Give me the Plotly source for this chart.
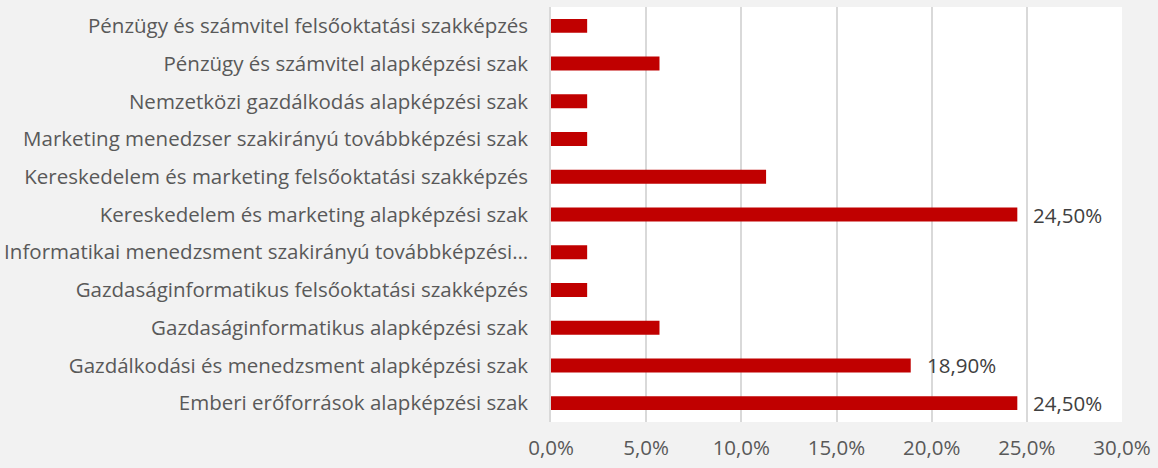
import plotly.graph_objects as go

categories = [
    "Emberi erőforrások alapképzési szak",
    "Gazdálkodási és menedzsment alapképzési szak",
    "Gazdaságinformatikus alapképzési szak",
    "Gazdaságinformatikus felsőoktatási szakképzés",
    "Informatikai menedzsment szakirányú továbbképzési…",
    "Kereskedelem és marketing alapképzési szak",
    "Kereskedelem és marketing felsőoktatási szakképzés",
    "Marketing menedzser szakirányú továbbképzési szak",
    "Nemzetközi gazdálkodás alapképzési szak",
    "Pénzügy és számvitel alapképzési szak",
    "Pénzügy és számvitel felsőoktatási szakképzés",
]
values = [0.245, 0.189, 0.057, 0.019, 0.019, 0.245, 0.113, 0.019, 0.019, 0.057, 0.019]
show_label = [True, True, False, False, False, True, False, False, False, False, False]
x_ticks = [0, 0.05, 0.10, 0.15, 0.20, 0.25, 0.30]

FONT = "Open Sans"
FS = 20.5
TXT = "#595959"

fig = go.Figure()
fig.add_trace(go.Bar(
    x=values, y=categories, orientation="h",
    marker=dict(color="#c00000", line=dict(width=0)),
    hoverinfo="skip",
))

for v, c, s in zip(values, categories, show_label):
    if s:
        fig.add_annotation(
            x=v, y=c, xref="x", yref="y",
            text=f"{v*100:.2f}%".replace(".", ","),
            showarrow=False, xanchor="left", xshift=14,
            font=dict(family=FONT, size=FS, color="#404040"),
        )

fig.update_layout(
    width=1158, height=468,
    margin=dict(l=551, r=36, t=7, b=46, autoexpand=False),
    paper_bgcolor="#f2f2f2",
    plot_bgcolor="#ffffff",
    separators=",.",
    bargap=0.63,
    showlegend=False,
    font=dict(family=FONT, size=FS, color=TXT),
)
fig.update_xaxes(
    range=[0, 0.30], tickvals=x_ticks, tickformat=".1%",
    showgrid=True, gridcolor="#d9d9d9", gridwidth=1.5,
    zeroline=False, showline=False, ticks="", ticklabelstandoff=11,
    tickfont=dict(family=FONT, size=FS, color=TXT), automargin=False,
    fixedrange=True,
)
fig.update_yaxes(
    categoryorder="array", categoryarray=categories,
    showgrid=False, zeroline=False,
    showline=True, linecolor="#d9d9d9", linewidth=1.5,
    ticks="", ticklabelstandoff=17,
    tickfont=dict(family=FONT, size=FS, color=TXT), automargin=False,
    fixedrange=True,
)

fig.write_html(
    "out.html",
    config={"displayModeBar": False},
    post_script="document.body.style.margin='0';document.body.style.background='#f2f2f2';",
)
